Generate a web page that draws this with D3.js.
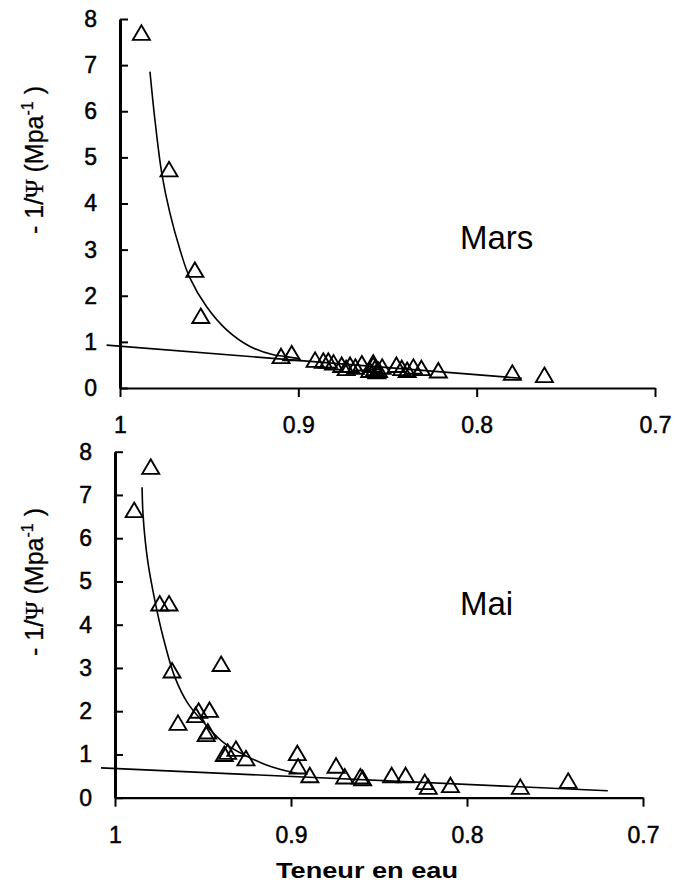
<!DOCTYPE html>
<html>
<head>
<meta charset="utf-8">
<script src="https://cdn.jsdelivr.net/npm/d3@7"></script>
<style>
  body { margin: 0; background: #fff; }
  text { font-family: "Liberation Sans", Arial, sans-serif; fill: #000; }
</style>
</head>
<body>
<div id="chart"></div>
<script>
// tick values
var xTicks = [1, 0.9, 0.8, 0.7];
var yTicks = [0, 1, 2, 3, 4, 5, 6, 7, 8];

// Mars : points
var marsX = [0.988, 0.9725, 0.958, 0.9547, 0.9097, 0.9037, 0.8906, 0.886, 0.8832, 0.8803,
             0.8757, 0.8732, 0.871, 0.868, 0.8644, 0.860, 0.858, 0.858, 0.857, 0.856, 0.855,
             0.853, 0.845, 0.842, 0.839, 0.8355, 0.831, 0.8215, 0.780, 0.762];
var marsY = [7.70, 4.74, 2.56, 1.56, 0.69, 0.75, 0.61, 0.59, 0.59, 0.55,
             0.50, 0.43, 0.50, 0.46, 0.53, 0.39, 0.50, 0.55, 0.43, 0.36, 0.39,
             0.46, 0.50, 0.43, 0.39, 0.46, 0.43, 0.38, 0.33, 0.28];
// Mars : fitted curve + straight line
var marsCurveX = [0.9832, 0.9804, 0.9766, 0.9720, 0.9663, 0.9611, 0.9514, 0.9402, 0.9271, 0.9140, 0.9065, 0.899];
var marsCurveY = [6.86, 5.81, 4.66, 3.79, 2.99, 2.41, 1.76, 1.26, 0.90, 0.72, 0.68, 0.63];
var marsLineX = [1.0075, 0.7747];
var marsLineY = [0.93, 0.21];

// Mai : points
var maiX = [0.9797, 0.9891, 0.9746, 0.9693, 0.9676, 0.9397, 0.9642, 0.9542, 0.9525, 0.9463,
            0.9482, 0.9473, 0.9379, 0.9360, 0.9313, 0.9256, 0.8964, 0.8960, 0.8893, 0.8744,
            0.8695, 0.8606, 0.8593, 0.8428, 0.8349, 0.824, 0.822, 0.8094, 0.7697, 0.7425];
var maiY = [7.65, 6.65, 4.49, 4.49, 2.94, 3.09, 1.73, 1.91, 2.01, 2.03,
            1.47, 1.53, 1.01, 1.06, 1.13, 0.91, 1.03, 0.72, 0.52, 0.74,
            0.49, 0.49, 0.45, 0.52, 0.52, 0.36, 0.25, 0.29, 0.25, 0.39];
var maiCurveX = [0.9846, 0.9840, 0.9815, 0.9774, 0.9727, 0.9661, 0.9586, 0.9492, 0.9379, 0.9247, 0.9115, 0.8964];
var maiCurveY = [7.18, 6.50, 5.50, 4.57, 3.72, 2.80, 2.18, 1.72, 1.26, 0.95, 0.72, 0.56];
var maiLineX = [1.0079, 0.72];
var maiLineY = [0.69, 0.16];

var svg = d3.select("#chart").append("svg")
    .attr("width", 675)
    .attr("height", 894);

var triangle = "M0,-7.5L8.5,7L-8.5,7Z";

function drawPanel(p) {
  var x = d3.scaleLinear().domain([1, 0.7]).range([p.x0, p.x1]);
  var y = d3.scaleLinear().domain([0, 8]).range([p.y0, p.y1]);
  var g = svg.append("g");

  // straight line
  g.append("path")
    .datum(d3.zip(p.lineX, p.lineY))
    .attr("fill", "none")
    .attr("stroke", "#000")
    .attr("stroke-width", 1.6)
    .attr("d", d3.line().x(function(d){ return x(d[0]); }).y(function(d){ return y(d[1]); }));

  // curve
  g.append("path")
    .datum(d3.zip(p.curveX, p.curveY))
    .attr("fill", "none")
    .attr("stroke", "#000")
    .attr("stroke-width", 1.6)
    .attr("d", d3.line().curve(d3.curveCatmullRom.alpha(0.5))
      .x(function(d){ return x(d[0]); }).y(function(d){ return y(d[1]); }));

  // markers
  g.selectAll(".pt")
    .data(d3.zip(p.ptX, p.ptY))
    .enter().append("path")
    .attr("class", "pt")
    .attr("d", triangle)
    .attr("transform", function(d){ return "translate(" + x(d[0]) + "," + y(d[1]) + ")"; })
    .attr("fill", "none")
    .attr("stroke", "#000")
    .attr("stroke-width", 1.9);

  // axes
  var xa = g.append("g")
    .attr("transform", "translate(0," + p.y0 + ")")
    .call(d3.axisBottom(x).tickValues(xTicks).tickFormat(d3.format("")).tickSize(9).tickSizeOuter(0).tickPadding(20));
  xa.select(".domain").attr("stroke-width", 2.2);
  xa.selectAll(".tick line").attr("stroke-width", 2);
  xa.selectAll("text").attr("font-size", 23).attr("font-family", "Liberation Sans, Arial, sans-serif")
    .attr("stroke", "#000").attr("stroke-width", 0.5);

  var ya = g.append("g")
    .attr("transform", "translate(" + p.x0 + ",0)")
    .call(d3.axisLeft(y).tickValues(yTicks).tickSize(-8).tickSizeOuter(0).tickPadding(23));
  ya.select(".domain").attr("stroke-width", 3);
  ya.selectAll(".tick line").attr("stroke-width", 2);
  ya.selectAll("text").attr("font-size", 23).attr("font-family", "Liberation Sans, Arial, sans-serif")
    .attr("stroke", "#000").attr("stroke-width", 0.5);

  // y title
  var t = g.append("text")
    .attr("transform", "translate(" + p.titleX + "," + p.titleY + ") rotate(-90)")
    .attr("text-anchor", "middle")
    .attr("font-size", 25)
    .attr("stroke", "#000").attr("stroke-width", 0.3);
  t.append("tspan").text("- 1/");
  t.append("tspan").attr("font-family", "Liberation Serif, Times New Roman, serif").text("Ψ");
  t.append("tspan").text(" (Mpa");
  t.append("tspan").attr("font-size", 16).attr("dy", -10).text("-1");
  t.append("tspan").attr("dy", 10).text(" )");

  // panel name
  g.append("text")
    .attr("x", p.nameX)
    .attr("y", p.nameY)
    .attr("font-size", 33)
    .text(p.name);
}

drawPanel({
  x0: 120, x1: 655, y0: 388, y1: 19,
  ptX: marsX, ptY: marsY,
  curveX: marsCurveX, curveY: marsCurveY,
  lineX: marsLineX, lineY: marsLineY,
  titleX: 43, titleY: 160,
  name: "Mars", nameX: 460, nameY: 249
});

drawPanel({
  x0: 115, x1: 643, y0: 797.7, y1: 451.7,
  ptX: maiX, ptY: maiY,
  curveX: maiCurveX, curveY: maiCurveY,
  lineX: maiLineX, lineY: maiLineY,
  titleX: 43, titleY: 582,
  name: "Mai", nameX: 460, nameY: 615
});

svg.append("text")
  .attr("x", 367)
  .attr("y", 878)
  .attr("text-anchor", "middle")
  .attr("font-size", 22)
  .attr("font-weight", "bold")
  .attr("textLength", 182)
  .attr("lengthAdjust", "spacingAndGlyphs")
  .text("Teneur en eau");
</script>
</body>
</html>
